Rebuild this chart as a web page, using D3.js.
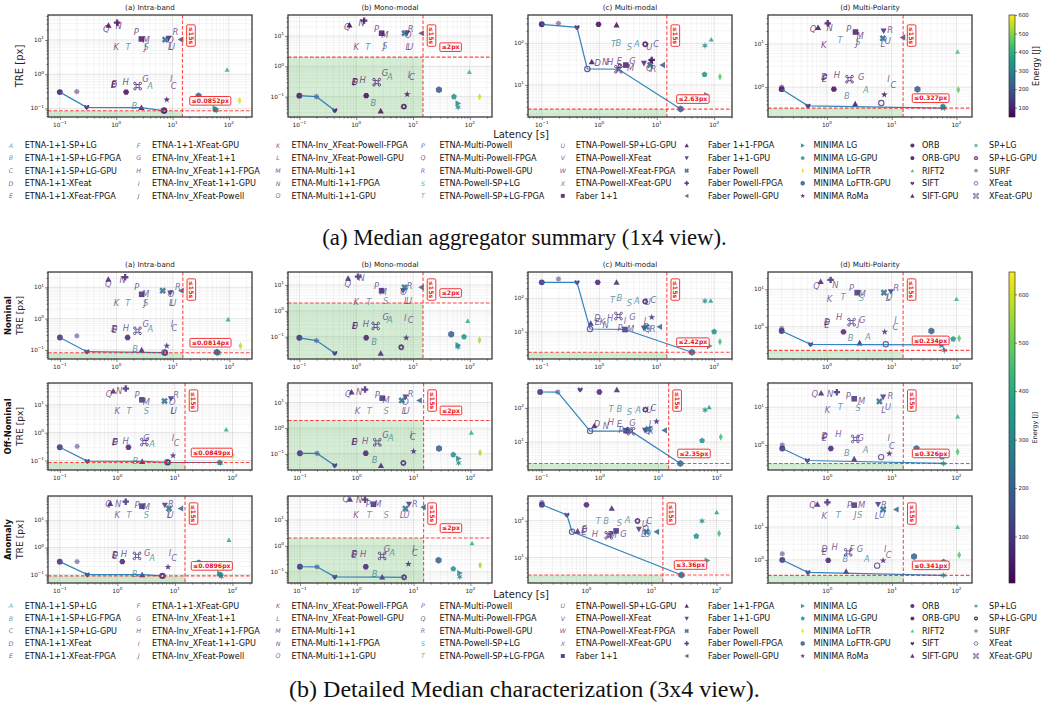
<!DOCTYPE html>
<html><head><meta charset="utf-8">
<script src="https://cdn.jsdelivr.net/npm/d3@7"></script>
<style>
body{margin:0;background:#fff}
svg{display:block}
text{font-family:"DejaVu Sans",sans-serif}
text.cap{font-family:"Liberation Serif",serif}
</style>
</head><body>
<svg id="fig" width="1049" height="711"></svg>
<script>
// ---------- methods ----------
const methodKeys = ["A","B","C","D","E","F","G","H","I","J","K","L","M","N","O","P","Q","R","S","T","U","V","W","X",
  "F11","F11F","F11G","FP","FPF","FPG","MLG","MLGG","MLF","MLFG","MRM","ORB","ORBG","RIFT","SIFT","SIFTG","SPLG","SPLGG","SURF","XF","XFG"];
const methodNames = ["ETNA-1+1-SP+LG","ETNA-1+1-SP+LG-FPGA","ETNA-1+1-SP+LG-GPU","ETNA-1+1-XFeat","ETNA-1+1-XFeat-FPGA",
  "ETNA-1+1-XFeat-GPU","ETNA-Inv_XFeat-1+1","ETNA-Inv_XFeat-1+1-FPGA","ETNA-Inv_XFeat-1+1-GPU","ETNA-Inv_XFeat-Powell",
  "ETNA-Inv_XFeat-Powell-FPGA","ETNA-Inv_XFeat-Powell-GPU","ETNA-Multi-1+1","ETNA-Multi-1+1-FPGA","ETNA-Multi-1+1-GPU",
  "ETNA-Multi-Powell","ETNA-Multi-Powell-FPGA","ETNA-Multi-Powell-GPU","ETNA-Powell-SP+LG","ETNA-Powell-SP+LG-FPGA",
  "ETNA-Powell-SP+LG-GPU","ETNA-Powell-XFeat","ETNA-Powell-XFeat-FPGA","ETNA-Powell-XFeat-GPU","Faber 1+1",
  "Faber 1+1-FPGA","Faber 1+1-GPU","Faber Powell","Faber Powell-FPGA","Faber Powell-GPU",
  "MINIMA LG","MINIMA LG-GPU","MINIMA LoFTR","MINIMA LoFTR-GPU","MINIMA RoMa",
  "ORB","ORB-GPU","RIFT2","SIFT","SIFT-GPU",
  "SP+LG","SP+LG-GPU","SURF","XFeat","XFeat-GPU"];
const methodMarkers = ["txt","txt","txt","txt","txt","txt","txt","txt","txt","txt","txt","txt","txt","txt","txt","txt","txt","txt","txt","txt","txt","txt","txt","txt",
  "square","triUp","triDown","xFilled","plusFilled","triLeft","triRight","pentagon","thinDiamond","bigCircle","star",
  "circle","hexagon","triSmall","heart","triUp","snow","gear","surf","ring","cmd"];
// energy [J] per dataset column: intra-band, mono-modal, multi-modal, multi-polarity
const methodEnergy = [
  [270,270,270,270],[250,250,250,250],[95,95,95,95],[60,60,60,60],[55,55,55,55],
  [75,75,75,75],[70,70,70,70],[55,55,55,55],[90,90,90,90],[65,65,65,65],
  [55,55,55,55],[85,85,85,85],[70,70,70,70],[55,55,55,55],[90,90,90,90],
  [70,70,70,70],[55,55,55,55],[95,95,95,95],[260,260,260,260],[250,250,250,250],
  [100,100,100,100],[70,70,70,70],[55,55,55,55],[90,90,90,90],
  [90,90,90,90],[65,65,65,65],[110,110,110,110],[230,230,230,230],[80,80,80,80],[200,200,200,200],
  [300,300,300,300],[330,330,330,330],[570,560,450,470],[190,190,190,190],[80,80,80,80],
  [75,75,75,75],[60,60,60,60],[410,420,380,440],[65,65,65,65],[70,70,70,70],
  [310,310,310,310],[60,60,60,60],[110,110,110,110],[110,110,110,110],[90,90,90,90]];

// ---------- median aggregator (1x4) : [method, latency s, TRE px] ----------
const medIntra = [["ORB",0.1,0.30],["SURF",0.2,0.31],["SIFT",0.3,0.108],["SIFTG",2.8,0.106],["SPLGG",7.2,0.0852],["XF",7.0,0.087],
 ["B",2.1,0.117],["MRM",7.9,0.18],["ORBG",1.5,0.30],["D",0.91,0.5],["E",0.92,0.52],["F",0.9,0.48],
 ["H",1.47,0.59],["XFG",2.4,0.45],["G",3.3,0.71],["A",4.0,0.46],["I",9.5,0.71],["C",10.5,0.45],
 ["F11F",0.73,27],["Q",0.67,21],["FPF",1.04,32],["N",1.1,26],["P",2.27,17.7],["F11",2.8,10.7],["M",3.4,10],
 ["K",1.0,6.1],["T",1.62,6.1],["S",3.4,6.1],["J",3.3,6.3],["FP",7.4,10.2],["F11G",8.5,11.2],["O",9.2,10],["R",11.3,17.7],
 ["L",9.1,6.1],["U",9.8,6.1],["FPG",14,10.3],
 ["RIFT",93,1.35],["MLF",155,0.17],["MLFG",29,0.23],["MLGG",58,0.092],["SPLG",60,0.088],["MLG",57,0.1]];
const medMono = [["ORB",0.1,0.108],["SURF",0.2,0.1],["SIFT",0.42,0.035],["D",0.95,0.31],["E",0.93,0.3],["F",0.96,0.29],
 ["H",1.3,0.36],["ORBG",1.5,0.108],["B",2.0,0.063],["SIFTG",2.7,0.034],["XFG",2.3,0.3],["G",3.2,0.59],["A",3.9,0.43],
 ["MRM",7.9,0.12],["SPLGG",6.9,0.047],["I",8.5,0.52],["C",9.6,0.43],
 ["F11F",0.76,23],["Q",0.7,20],["N",1.24,27.7],["FPF",1.38,32],["P",2.27,16.6],["F11",2.8,12.3],["M",3.2,10.8],
 ["K",1.0,4.4],["T",1.6,4.4],["S",3.2,4.8],["J",3.1,4.6],["L",8.1,4.4],["U",9.0,4.4],["FP",7.1,12.3],["F11G",7.9,12.5],
 ["O",8.3,10.8],["R",9.1,17],["FPG",14,12.3],
 ["MLFG",28.6,0.17],["MLGG",52.6,0.1],["RIFT",98,0.65],["MLF",148,0.1],["MLG",62,0.06],["SPLG",62,0.045]];
const medMulti = [["ORB",0.1,286],["SURF",0.195,302],["SIFT",0.41,242],["ORBG",0.97,286],["SIFTG",2.0,276],
 ["XF",0.62,24.2],["XFG",2.16,23.8],["MLFG",26,2.63],
 ["F11F",0.74,36],["D",0.94,34.6],["E",2.24,37],["F",2.24,25.5],["N",1.27,36],["H",1.55,36],["F11",2.9,30],["M",3.5,25],
 ["P",2.2,25.5],["G",3.8,37],["F11G",6.0,33],["FPF",8.2,40],["FP",7.7,30],["Q",7.4,25],["R",8.8,24.5],["FPG",12.6,30],["MRM",8.0,38],
 ["T",1.77,95],["B",2.16,100],["S",3.36,83],["A",4.5,95],["SPLGG",6.3,95],["U",7.4,83],["C",9.8,95],
 ["SPLG",69,88],["RIFT",89,124],["MLGG",68,17.8],["MLF",126,15.8],["MLG",74,5.7]];
const medPol = [["ORB",0.2,0.9],["SURF",0.2,1.0],["SIFT",0.51,0.37],["SPLG",65,0.327],["SIFTG",2.73,0.41],["XF",6.9,0.43],
 ["ORBG",1.28,0.9],["D",0.91,1.7],["E",0.91,1.55],["F",0.92,1.62],["H",1.43,1.93],["XFG",2.23,1.53],["G",3.4,1.7],
 ["B",2.03,0.63],["A",4.0,0.84],["MRM",7.7,0.67],["I",8.9,1.55],["C",10.6,1.13],["MLFG",25,0.9],["RIFT",104,6.6],["MLF",107,0.87],
 ["F11F",0.73,24],["Q",0.61,22],["FPF",1.03,30],["N",1.1,24],["P",2.18,21.8],["F11",2.76,18.9],["M",3.25,15.6],
 ["K",0.89,9.5],["T",1.6,12.4],["S",3.0,11.3],["J",2.9,10.5],["F11G",7.5,20],["R",9.5,21],["FP",7.3,13.5],["L",7.3,10],["U",8.7,12],
 ["FPG",14.8,14.2],["MLGG",62,0.36],["MLG",63,0.34]];

// ---------- detailed median (3x4) ----------
const nomIntra = [["ORB",0.1,0.25],["SURF",0.2,0.28],["SIFT",0.3,0.088],["SPLGG",7.3,0.0814],["XF",7.1,0.083],["MRM",7.8,0.135],
 ["SIFTG",2.8,0.1],["B",2.15,0.11],["ORBG",1.58,0.25],["D",0.92,0.46],["E",0.93,0.44],["F",0.91,0.47],["H",1.47,0.49],
 ["XFG",2.36,0.41],["G",3.3,0.68],["A",4.0,0.48],["I",9.6,0.66],["C",10.6,0.49],
 ["F11F",0.72,18],["Q",0.72,13],["FPF",1.43,21],["N",1.29,16.6],["P",2.3,10.5],["F11",2.8,6.0],["M",3.3,6],
 ["K",1.0,3.1],["T",1.6,3.1],["S",3.3,3.1],["J",3.2,3.2],["FP",6.6,7.8],["F11G",9.0,6.6],["O",9.3,6.2],["R",12.3,10.5],
 ["L",9.4,3.1],["U",10.2,3.1],["FPG",14,7.8],
 ["RIFT",95,0.95],["MLF",157,0.135],["MLGG",62,0.082],["SPLG",64,0.08],["MLFG",60,0.085]];
const nomMono = [["ORB",0.1,0.091],["SURF",0.2,0.071],["SIFT",0.42,0.023],["D",0.95,0.26],["E",0.94,0.25],["F",0.96,0.27],
 ["H",1.48,0.31],["ORBG",1.5,0.091],["B",2.07,0.065],["SIFTG",2.7,0.023],["XFG",2.2,0.26],["G",3.3,0.56],["A",3.9,0.44],
 ["MRM",7.6,0.091],["SPLGG",6.2,0.039],["I",7.3,0.53],["C",9.1,0.44],
 ["F11F",0.72,18],["Q",0.71,10.9],["FPF",1.08,21],["N",1.24,18],["P",2.27,9.4],["F11",2.8,6],["M",3.0,5.5],
 ["K",1.0,2.26],["T",1.67,2.26],["S",3.3,2.45],["L",7.6,2.45],["U",8.5,2.45],["FP",7.1,8.1],["F11G",6.7,6.0],["O",6.8,5.6],
 ["R",8.7,9.1],["FPG",14,8.1],
 ["MLFG",47,0.126],["MLGG",79,0.1],["RIFT",92,0.41],["MLF",148,0.074],["MLG",62,0.048],["SPLG",62,0.04]];
const nomMulti = [["ORB",0.1,302],["SURF",0.195,380],["SIFT",0.41,300],["ORBG",0.94,302],["SIFTG",2.0,302],
 ["XF",0.69,12],["F11",2.8,11.6],["MLFG",41,2.42],
 ["F11F",0.71,17.8],["D",0.93,25],["E",0.93,19],["K",1.13,20],["N",1.29,16],["H",1.55,25],["XFG",2.16,29.5],["I",2.8,21],
 ["G",3.8,28],["L",6.5,21],["MRM",8.2,27],["F11G",6.0,12.6],["FP",6.6,14],["Q",7.0,11.9],["R",8.5,11.9],["FPG",11.2,14],
 ["P",2.3,12.5],["M",3.5,11.9],
 ["T",1.7,89],["B",2.25,100],["S",3.36,71],["A",4.5,83],["SPLGG",6.3,80],["C",8.8,89],["U",7.0,80],
 ["SPLG",69,83],["RIFT",87,85],["MLGG",100,10],["MLF",126,5.0],["MLG",83,3.7]];
const nomPol = [["ORB",0.2,0.77],["SURF",0.2,0.9],["SIFT",0.56,0.34],["MLG",60,0.33],["SPLG",65,0.234],["SIFTG",3.2,0.37],
 ["XF",8.1,0.34],["D",1.0,1.35],["E",1.0,1.15],["F",1.0,1.25],["H",1.55,1.78],["XFG",2.4,1.33],["J",3.1,1.23],["G",3.5,1.5],
 ["ORBG",1.8,0.73],["B",2.33,0.49],["A",4.3,0.52],["MRM",7.8,0.73],["I",11.4,1.5],["C",11.4,1.0],["MLFG",41,0.77],
 ["MLGG",89,0.47],["MLF",110,0.49],["RIFT",100,5.5],
 ["F11F",0.8,16],["Q",0.69,12.2],["FPF",1.14,17.8],["N",1.35,13],["P",2.4,11],["F11",2.93,8.1],["M",3.5,7.3],
 ["S",3.4,5.7],["T",1.78,6.1],["K",1.1,5.4],["FP",7.6,8.1],["F11G",9.7,8.6],["R",11.7,11],["L",8.8,5.9],["U",9.3,6.2]];

const offIntra = [["ORB",0.1,0.3],["SURF",0.2,0.32],["SIFT",0.3,0.095],["SIFTG",2.7,0.093],["SPLGG",7.6,0.086],["XF",7.4,0.087],
 ["MLGG",60,0.0849],["SPLG",62,0.082],["B",2.05,0.1],["MRM",9.3,0.15],["ORBG",1.56,0.3],["D",0.91,0.46],["E",0.92,0.48],
 ["F",0.9,0.44],["H",1.4,0.5],["XFG",2.95,0.46],["G",3.2,0.66],["A",4.0,0.4],["I",9.3,0.63],["C",10.7,0.43],
 ["RIFT",78,1.3],["MLF",100,0.15],
 ["F11F",0.85,31],["Q",0.72,25],["N",1.07,31],["FPF",1.4,38],["P",2.2,21.8],["F11",2.67,15],["M",3.2,13],
 ["K",1.0,6.2],["T",1.6,6.2],["S",3.2,6.2],["FP",6.6,13.6],["F11G",8.5,16.5],["O",9.0,12.5],["R",10.5,21.8],
 ["L",9.2,6.2],["U",9.6,6.2]];
const offMono = [["ORB",0.1,0.105],["SURF",0.2,0.104],["SIFT",0.41,0.035],["D",0.91,0.29],["E",0.92,0.28],["F",0.9,0.3],
 ["H",1.4,0.32],["ORBG",1.44,0.105],["B",2.06,0.06],["SIFTG",2.67,0.035],["XFG",2.3,0.28],["G",3.2,0.55],["A",4.0,0.43],
 ["SPLGG",6.6,0.044],["MRM",10,0.126],["I",9.0,0.55],["C",9.7,0.47],
 ["F11F",0.81,25.6],["Q",0.71,21],["N",1.1,25.6],["FPF",1.4,32],["P",2.3,18.9],["F11",2.8,14.8],["M",3.3,13],
 ["K",1.03,4.8],["T",1.67,4.8],["S",3.3,4.8],["FP",6.2,12],["F11G",7.2,16.3],["O",7.2,10.3],["R",8.9,20.6],
 ["L",6.8,4.8],["U",7.5,4.8],["FPG",12.6,12],
 ["MLFG",28,0.16],["MLGG",50,0.093],["RIFT",104,0.67],["MLF",148,0.11],["MLG",62,0.066],["SPLG",62,0.044]];
const offMulti = [["ORB",0.095,293],["SURF",0.19,292],["SIFT",0.46,340],["ORBG",0.98,293],["SIFTG",1.95,340],
 ["XF",0.68,21],["XFG",3.4,20.8],["MLFG",23.8,2.35],["F11",2.8,21.5],
 ["F11F",0.8,30],["D",0.89,33],["N",1.27,30],["H",1.55,39],["E",2.16,33],["G",3.6,35],["Q",6.7,21.5],["R",7.4,21.5],
 ["F11G",5.9,22],["FP",6.7,23.7],["MRM",9.3,40],["L",7.5,33],["FPG",12.7,22],["P",2.3,22],["M",3.1,21.5],
 ["T",1.55,93],["B",2.16,93],["S",3.2,74],["A",4.5,89],["SPLGG",6.0,89],["C",8.2,98],["U",7.0,85],
 ["SPLG",63,87],["RIFT",74,105],["MLGG",56,11],["MLF",117,14],["MLG",69,5.2]];
const offPol = [["ORB",0.2,0.81],["SURF",0.2,1.0],["SIFT",0.49,0.39],["SPLG",63,0.326],["SIFTG",2.6,0.43],["XF",6.8,0.48],
 ["MRM",9.1,0.59],["B",2.0,0.63],["A",3.9,0.72],["ORBG",1.13,0.81],["D",0.9,1.7],["E",0.9,1.5],["F",0.91,1.6],
 ["H",1.48,1.93],["XFG",2.7,1.45],["G",3.3,1.5],["I",8.9,1.5],["C",10,0.95],["MLFG",24,0.81],["MLGG",60,0.48],
 ["MLF",104,0.66],["RIFT",104,5.7],
 ["F11F",0.8,23.7],["Q",0.64,22],["FPF",1.4,25],["N",1.1,22],["P",2.1,19.3],["F11",2.6,16.7],["M",3.4,15],
 ["K",1.0,8.5],["T",1.58,10.4],["S",3.0,9.6],["FP",6.4,14.2],["F11G",7.3,18.5],["R",9.5,20],["U",8.7,10.4],["L",7.4,8.5]];

const anoIntra = [["ORB",0.1,0.3],["SURF",0.2,0.3],["SIFT",0.3,0.1],["SIFTG",2.7,0.099],["SPLGG",6.0,0.0896],["XF",6.1,0.09],
 ["B",2.0,0.107],["MRM",7.6,0.19],["ORBG",1.22,0.3],["D",0.91,0.53],["E",0.92,0.5],["F",0.9,0.55],["H",1.3,0.59],
 ["XFG",2.2,0.49],["G",3.3,0.65],["A",4.0,0.42],["I",8.2,0.65],["C",9.7,0.42],["MLFG",26,0.27],["RIFT",87,1.9],
 ["MLF",94,0.2],["MLGG",62,0.1],["SPLG",64,0.085],["MLG",60,0.11],
 ["Q",0.7,42],["F11F",0.75,42],["N",1.03,42],["FPF",1.4,49],["P",2.2,36.5],["F11",2.67,33.5],["M",3.2,32],
 ["F11G",6.7,36.5],["FP",7.9,27.4],["R",8.5,42],["L",7.9,16.3],["U",8.4,16.3],["K",1.0,16.3],["T",1.6,16.3],["S",3.2,16.3],
 ["FPG",12.6,27.4]];
const anoMono = [["ORB",0.1,0.157],["SURF",0.2,0.156],["SIFT",0.41,0.064],["SIFTG",2.8,0.063],["SPLGG",6.8,0.0615],
 ["ORBG",1.44,0.157],["D",0.9,0.47],["E",0.91,0.45],["F",0.9,0.5],["H",1.3,0.5],["XFG",2.8,0.41],["G",3.4,0.74],["A",4.2,0.55],
 ["I",10,0.74],["C",10.6,0.55],["MRM",8.1,0.2],["B",2.06,0.08],
 ["Q",0.64,62],["F11F",0.76,62],["N",1.1,60],["FPF",1.4,60],["P",1.6,40],["F11",1.97,40],["M",2.35,40],["F11G",8.3,40],
 ["FP",7.2,27],["R",10.5,40],["FPG",14.8,31],["K",0.97,15.6],["T",1.67,15.6],["S",3.3,15.6],["L",6.3,15.6],["U",7.5,15.6],
 ["MLFG",27.5,0.28],["MLGG",50,0.13],["RIFT",107,1.26],["MLF",148,0.18],["MLG",65,0.09],["SPLG",65,0.064]];
const anoMulti = [["ORB",0.206,270],["SURF",0.206,313],["SIFT",0.5,143],["XF",0.6,50],["MLFG",29,3.36],["ORBG",1.0,270],
 ["SIFTG",2.45,218],
 ["F11F",0.73,52],["D",0.92,55],["E",0.92,50],["F",0.93,58],["H",1.35,45],["XFG",2.2,40],["R",2.3,40],["F11",2.86,53],
 ["G",3.7,43],["F11G",6.4,59],["Q",8.1,61],["FP",8.4,50],["L",7.5,43],["O",8.7,43],["FPG",12,50],["P",2.35,40],["M",2.6,40],
 ["T",1.52,98],["B",2.0,98],["S",3.2,88],["A",4.3,104],["SPLGG",6.1,98],["U",7.9,84],["C",9.2,98],
 ["SPLG",60,98],["RIFT",101,170],["MLGG",49,38],["MLF",110,45],["MLG",72,8.3]];
const anoPol = [["ORB",0.2,1.0],["SURF",0.2,1.54],["SIFT",0.5,0.42],["SPLG",63,0.341],["SIFTG",1.95,0.45],["XF",5.9,0.67],
 ["MRM",7.3,0.96],["B",1.9,1.05],["A",4.1,1.05],["ORBG",1.03,0.97],["D",0.9,2.2],["E",0.9,1.8],["F",2.4,2.2],["H",1.3,2.45],
 ["XFG",2.1,1.7],["G",3.2,2.2],["I",7.9,2.2],["C",8.9,1.4],["MLFG",22,1.26],["MLGG",63,0.89],["MLF",110,1.41],["RIFT",104,10],
 ["Q",0.59,46],["F11F",0.7,49],["FPF",1.0,56],["P",2.2,46],["F11",2.6,46],["M",3.4,46],["K",0.89,22],["T",1.48,22.7],
 ["J",2.7,22.7],["S",3.15,22.7],["F11G",6.1,48],["FP",7.3,34],["R",7.5,46],["L",5.9,22],["U",7.0,22.5],["FPG",11.6,34]];

// Pareto fronts (method keys in latency order)
const paretoTop = [["ORB","SIFT","SIFTG","SPLGG"],["ORB","SURF","SIFT"],["ORB","SIFT","XF","XFG","MLFG"],["ORB","SIFT","SPLG"]];
const paretoGrid = [
  [["ORB","SIFT","SPLGG"],["ORB","SURF","SIFT"],["ORB","SIFT","XF","F11","MLFG"],["ORB","SIFT","MLG","SPLG"]],
  [["ORB","SIFT","SIFTG","SPLGG","MLGG"],["ORB","SURF","SIFT"],["ORB","SURF","XF","XFG","MLFG"],["ORB","SIFT","SPLG"]],
  [["ORB","SIFT","SIFTG","SPLGG"],["ORB","SURF","SIFT","SIFTG","SPLGG"],["ORB","SIFT","XF","MLFG"],["ORB","SIFT","SPLG"]]];
// accuracy thresholds (px); mono-modal uses a fixed 2 px budget
const thrTop = [0.0852, 2, 2.63, 0.327];
const thrGrid = [[0.0814, 2, 2.42, 0.234],[0.0849, 2, 2.35, 0.326],[0.0896, 2, 3.36, 0.341]];
const latencyBudget = 15;
const panelTitles = ["(a) Intra-band","(b) Mono-modal","(c) Multi-modal","(d) Multi-Polarity"];
const rowNames = ["Nominal","Off-Nominal","Anomaly"];
const energyTicks = [100,200,300,400,500,600];

const topData = [medIntra, medMono, medMulti, medPol];
const gridData = [[nomIntra, nomMono, nomMulti, nomPol],[offIntra, offMono, offMulti, offPol],[anoIntra, anoMono, anoMulti, anoPol]];

// ---------- layout ----------
const fig = d3.select("#fig");
const colLeft = [48, 288, 528, 768];
const panelW = 204;
const topBox = {y:15, h:102};
const rowBox = [{y:272,h:87},{y:383,h:87},{y:496,h:87}];
const xDomTop = [[-1.21,2.41],[-1.2,2.39],[-1.24,2.31],[-0.91,2.24]];
const yDomTop = [[-1.25,1.73],[-1.67,1.69],[0.23,2.68],[-0.69,1.67]];
const xDomGrid = [
  [[-1.21,2.40],[-1.2,2.39],[-1.24,2.31],[-0.91,2.24]],
  [[-1.205,2.34],[-1.21,2.38],[-1.23,2.26],[-0.92,2.24]],
  [[-1.205,2.34],[-1.21,2.38],[-0.9,2.24],[-0.92,2.24]]];
const yDomGrid = [
  [[-1.29,1.49],[-1.86,1.5],[0.18,2.79],[-0.86,1.46]],
  [[-1.34,1.78],[-1.63,1.76],[0.18,2.73],[-0.66,1.64]],
  [[-1.31,1.9],[-1.43,1.92],[0.31,2.67],[-0.7,1.94]]];
const eDomTop = [50, 600], eDomGrid = [4, 646];

// ---------- markers ----------
function poly(pts){ return "M" + pts.map(p => p[0].toFixed(2) + "," + p[1].toFixed(2)).join("L") + "Z"; }
function regPoly(n, r, rot){ const a=[]; for(let i=0;i<n;i++){const t=rot+i*2*Math.PI/n; a.push([r*Math.sin(t), -r*Math.cos(t)]);} return poly(a); }
function starPoly(n, r1, r2, rot){ const a=[]; for(let i=0;i<2*n;i++){const t=rot+i*Math.PI/n; const r=i%2?r2:r1; a.push([r*Math.sin(t), -r*Math.cos(t)]);} return poly(a); }
function plusPts(r){ const w=r*0.36; return [[-w,-r],[w,-r],[w,-w],[r,-w],[r,w],[w,w],[w,r],[-w,r],[-w,w],[-r,w],[-r,-w],[-w,-w]]; }
function rot(pts, a){ const c=Math.cos(a), s=Math.sin(a); return pts.map(p => [p[0]*c-p[1]*s, p[0]*s+p[1]*c]); }
function circ(r){ return `M${-r},0A${r},${r} 0 1,0 ${r},0A${r},${r} 0 1,0 ${-r},0Z`; }

function drawMarker(g, key, x, y, color, s) {
  const m = methodMarkers[methodKeys.indexOf(key)];
  const t = g.append("g").attr("transform", `translate(${x.toFixed(2)},${y.toFixed(2)})`);
  if (m === "txt") {
    t.append("text").attr("font-size", 8.4*s).attr("font-style","italic").attr("fill", color).attr("fill-opacity", 0.72)
      .attr("text-anchor","middle").attr("dy","0.36em").text(key);
    return;
  }
  const r = 2.8*s;
  let d, fill = color, op = 0.85, stroke = null, sw = 0, rule = null;
  switch (m) {
    case "square": d = poly([[-r,-r],[r,-r],[r,r],[-r,r]]); break;
    case "triUp": d = poly([[0,-r*1.1],[r*1.1,r*0.9],[-r*1.1,r*0.9]]); break;
    case "triSmall": d = poly([[0,-r*0.9],[r*0.9,r*0.75],[-r*0.9,r*0.75]]); break;
    case "triDown": d = poly([[0,r*1.1],[r*1.1,-r*0.9],[-r*1.1,-r*0.9]]); break;
    case "triLeft": d = poly([[-r*1.1,0],[r*0.9,-r*1.1],[r*0.9,r*1.1]]); break;
    case "triRight": d = poly([[r*1.1,0],[-r*0.9,-r*1.1],[-r*0.9,r*1.1]]); break;
    case "xFilled": d = poly(rot(plusPts(r*1.25), Math.PI/4)); break;
    case "plusFilled": d = poly(plusPts(r*1.15)); break;
    case "pentagon": d = regPoly(5, r*1.1, 0); break;
    case "thinDiamond": d = poly([[0,-r*1.35],[r*0.7,0],[0,r*1.35],[-r*0.7,0]]); break;
    case "bigCircle": d = regPoly(6, r*1.25, 0); break;
    case "circle": d = circ(r*1.05); break;
    case "hexagon": d = regPoly(6, r*1.1, Math.PI/6); break;
    case "star": d = starPoly(5, r*1.25, r*0.5, 0); break;
    case "heart": d = `M0,${r}C${-r*1.5},${-r*0.1} ${-r*0.9},${-r*1.4} 0,${-r*0.45}C${r*0.9},${-r*1.4} ${r*1.5},${-r*0.1} 0,${r}Z`; break;
    case "snow": d = starPoly(6, r*1.25, r*0.5, 0); break;
    case "gear": d = starPoly(8, r*1.15, r*0.95, 0) + circ(r*0.42); rule = "evenodd"; break;
    case "surf": d = starPoly(8, r*1.1, r*0.75, 0); op = 0.55; break;
    case "ring": d = circ(r*0.95); fill = "none"; stroke = color; sw = 1.1*s; break;
    case "cmd": {
      const a = r*0.55, b = r*0.42;
      d = poly([[-a,-a],[a,-a],[a,a],[-a,a]]) +
          [[-1,-1],[1,-1],[1,1],[-1,1]].map(q => `M${q[0]*(a+b)-b},${q[1]*(a+b)}A${b},${b} 0 1,0 ${q[0]*(a+b)+b},${q[1]*(a+b)}A${b},${b} 0 1,0 ${q[0]*(a+b)-b},${q[1]*(a+b)}`).join("");
      fill = "none"; stroke = color; sw = 1.0*s; break;
    }
  }
  const p = t.append("path").attr("d", d).attr("fill", fill);
  if (fill !== "none") p.attr("fill-opacity", op);
  if (rule) p.attr("fill-rule", rule);
  if (stroke) p.attr("stroke", stroke).attr("stroke-width", sw).attr("stroke-opacity", 0.8);
}

// ---------- boxed red labels ----------
function boxLabel(g, cx, cy, txt, rotate) {
  const l = g.append("g").attr("transform", `translate(${cx},${cy})` + (rotate ? " rotate(90)" : ""));
  const rect = l.append("rect");
  const t = l.append("text").attr("font-size", 6.2).attr("font-weight","bold").attr("fill","#e8141a")
    .attr("text-anchor","middle").attr("dy","0.35em").text(txt);
  const bb = t.node().getBBox();
  rect.attr("x", bb.x-1.8).attr("y", -4.3).attr("width", bb.width+3.6).attr("height", 8.6)
    .attr("rx", 1.2).attr("fill","#fff").attr("stroke","#f02020").attr("stroke-width",0.9);
}

function supText(sel, k, size) {
  sel.append("tspan").text("10");
  sel.append("tspan").attr("dy", -size*0.45).attr("font-size", size*0.72).text(k < 0 ? "\u2212" + (-k) : String(k));
}

let clipN = 0;
function drawPanel(o) {
  const g = fig.append("g");
  const xs = d3.scaleLog().domain([10**o.xd[0], 10**o.xd[1]]).range([o.x, o.x+o.w]);
  const ys = d3.scaleLog().domain([10**o.yd[0], 10**o.yd[1]]).range([o.y+o.h, o.y]);
  const cs = d3.scaleSequential(d3.interpolateViridis).domain(o.eDom);
  const id = "clip" + (clipN++);
  g.append("clipPath").attr("id", id).append("rect").attr("x", o.x).attr("y", o.y).attr("width", o.w).attr("height", o.h);
  const inner = g.append("g").attr("clip-path", `url(#${id})`);

  const split = dom => { const maj=[], min=[];
    for (let k=Math.floor(dom[0]); k<=Math.ceil(dom[1]); k++) for (let m=1;m<10;m++) {
      const lv = Math.log10(m*10**k); if (lv>=dom[0] && lv<=dom[1]) (m===1?maj:min).push(m*10**k); }
    return [maj, min]; };
  const [xMaj, xMin] = split(o.xd), [yMaj, yMin] = split(o.yd);

  // grid
  inner.append("g").selectAll("line").data(xMin).join("line")
    .attr("x1", d=>xs(d)).attr("x2", d=>xs(d)).attr("y1", o.y).attr("y2", o.y+o.h)
    .attr("stroke","#000").attr("stroke-opacity",0.07).attr("stroke-width",0.6);
  inner.append("g").selectAll("line").data(yMin).join("line")
    .attr("y1", d=>ys(d)).attr("y2", d=>ys(d)).attr("x1", o.x).attr("x2", o.x+o.w)
    .attr("stroke","#000").attr("stroke-opacity",0.07).attr("stroke-width",0.6);
  inner.append("g").selectAll("line").data(xMaj).join("line")
    .attr("x1", d=>xs(d)).attr("x2", d=>xs(d)).attr("y1", o.y).attr("y2", o.y+o.h)
    .attr("stroke","#000").attr("stroke-opacity",0.13).attr("stroke-width",0.8);
  inner.append("g").selectAll("line").data(yMaj).join("line")
    .attr("y1", d=>ys(d)).attr("y2", d=>ys(d)).attr("x1", o.x).attr("x2", o.x+o.w)
    .attr("stroke","#000").attr("stroke-opacity",0.13).attr("stroke-width",0.8);

  // feasible region
  const x15 = xs(latencyBudget), yT = ys(o.thr);
  inner.append("rect").attr("x", o.x).attr("y", yT).attr("width", x15-o.x).attr("height", o.y+o.h-yT)
    .attr("fill","#2ca02c").attr("fill-opacity",0.2);

  // markers, drawn in legend order
  const sorted = o.pts.slice().sort((a,b) => methodKeys.indexOf(a[0]) - methodKeys.indexOf(b[0]));
  sorted.forEach(p => drawMarker(inner, p[0], xs(p[1]), ys(p[2]), cs(methodEnergy[methodKeys.indexOf(p[0])][o.col]), 1));

  // Pareto front
  const front = o.pareto.map(k => o.pts.find(p => p[0] === k));
  inner.append("path").attr("d", d3.line().x(p=>xs(p[1])).y(p=>ys(p[2]))(front))
    .attr("fill","none").attr("stroke","#1f77b4").attr("stroke-width",1.2).attr("stroke-opacity",0.9);

  // budget lines
  inner.append("line").attr("x1", x15).attr("x2", x15).attr("y1", o.y).attr("y2", o.y+o.h)
    .attr("stroke","#ff1a1a").attr("stroke-opacity",0.8).attr("stroke-width",1.1).attr("stroke-dasharray","3.5,2");
  inner.append("line").attr("x1", o.x).attr("x2", o.x+o.w).attr("y1", yT).attr("y2", yT)
    .attr("stroke","#ff1a1a").attr("stroke-opacity",0.8).attr("stroke-width",1.1).attr("stroke-dasharray","3.5,2");

  boxLabel(g, x15 + 8.5, o.y + o.h*0.2, "\u2264" + latencyBudget + "s", true);
  boxLabel(g, x15 + 0.4*(o.x+o.w-x15), yT - 10, "\u2264" + o.thr + "px", false);

  // frame
  g.append("rect").attr("x", o.x).attr("y", o.y).attr("width", o.w).attr("height", o.h)
    .attr("fill","none").attr("stroke","#3a3a3a").attr("stroke-width",1.3);

  // axes
  const styleAx = sel => { sel.select(".domain").remove(); sel.selectAll("line").attr("stroke","#333").attr("stroke-width",0.6); };
  g.append("g").attr("transform", `translate(0,${o.y+o.h})`).call(d3.axisBottom(xs).tickValues(xMaj).tickSize(3).tickFormat("")).call(styleAx);
  g.append("g").attr("transform", `translate(0,${o.y+o.h})`).call(d3.axisBottom(xs).tickValues(xMin).tickSize(1.6).tickFormat("")).call(styleAx);
  g.append("g").attr("transform", `translate(${o.x},0)`).call(d3.axisLeft(ys).tickValues(yMaj).tickSize(3).tickFormat("")).call(styleAx);
  g.append("g").attr("transform", `translate(${o.x},0)`).call(d3.axisLeft(ys).tickValues(yMin).tickSize(1.6).tickFormat("")).call(styleAx);
  xMaj.forEach(v => {
    const t = g.append("text").attr("x", xs(v)).attr("y", o.y+o.h+10).attr("font-size",5.8).attr("fill","#222").attr("text-anchor","middle");
    supText(t, Math.round(Math.log10(v)), 5.8);
  });
  yMaj.forEach(v => {
    const t = g.append("text").attr("x", o.x-4).attr("y", ys(v)+2).attr("font-size",5.8).attr("fill","#222").attr("text-anchor","end");
    supText(t, Math.round(Math.log10(v)), 5.8);
  });
  if (o.title) g.append("text").attr("x", o.x+o.w/2).attr("y", o.y-5).attr("font-size",7.2).attr("fill","#222")
    .attr("text-anchor","middle").text(o.title);
}

function drawColorbar(x, y, w, h, dom, labelX, labelSize, gid) {
  const grad = fig.append("defs").append("linearGradient").attr("id", gid).attr("x1",0).attr("y1",1).attr("x2",0).attr("y2",0);
  d3.range(0, 1.0001, 0.05).forEach(t => grad.append("stop").attr("offset", t).attr("stop-color", d3.interpolateViridis(t)));
  fig.append("rect").attr("x", x).attr("y", y).attr("width", w).attr("height", h).attr("fill", `url(#${gid})`)
    .attr("stroke","#333").attr("stroke-width",0.7);
  const s = d3.scaleLinear().domain(dom).range([y+h, y]);
  fig.append("g").attr("transform", `translate(${x+w},0)`)
    .call(d3.axisRight(s).tickValues(energyTicks).tickSize(2).tickPadding(1.5))
    .call(a => { a.select(".domain").remove(); a.selectAll("line").attr("stroke","#333").attr("stroke-width",0.6);
                 a.selectAll("text").attr("font-size",5.4).attr("fill","#222"); });
  fig.append("text").attr("transform", `translate(${labelX},${y+h/2}) rotate(-90)`).attr("font-size", labelSize)
    .attr("text-anchor","middle").attr("fill","#222").text("Energy [J]");
}

function drawLegend(y0, dy) {
  const mx = [11, 138.6, 278, 423, 562.8, 686.7, 802.7, 912.4, 976];
  const tx = [24.7, 152, 291.4, 439.5, 575.7, 708, 813.5, 922, 989];
  const cs = d3.scaleSequential(d3.interpolateViridis).domain(eDomTop);
  methodKeys.forEach((k, i) => {
    const c = Math.floor(i/5), r = i%5, y = y0 + r*dy;
    const g = fig.append("g");
    drawMarker(g, k, mx[c], y, cs(methodEnergy[i][0]), methodMarkers[i] === "txt" ? 0.75 : 0.7);
    fig.append("text").attr("x", tx[c]).attr("y", y).attr("dy","0.35em").attr("font-size",8.1).attr("fill","#111").text(methodNames[i]);
  });
}

function caption(y, txt, targetW) {
  const t = fig.append("text").attr("class","cap").attr("x", 524.5).attr("y", y).attr("text-anchor","middle")
    .attr("font-size", 20).attr("fill","#111").text(txt);
  const w = t.node().getComputedTextLength();
  t.attr("font-size", 20*targetW/w);
}

// ---------- top figure ----------
topData.forEach((pts, c) => drawPanel({x: colLeft[c], y: topBox.y, w: panelW, h: topBox.h, xd: xDomTop[c], yd: yDomTop[c],
  pts, pareto: paretoTop[c], thr: thrTop[c], col: c, eDom: eDomTop, title: panelTitles[c]}));
fig.append("text").attr("transform", `translate(23,${topBox.y+topBox.h/2}) rotate(-90)`).attr("font-size",10)
  .attr("text-anchor","middle").attr("fill","#222").text("TRE [px]");
fig.append("text").attr("x", 521).attr("y", 138).attr("font-size",10).attr("text-anchor","middle").attr("fill","#222").text("Latency [s]");
drawColorbar(1009, topBox.y, 6, topBox.h, eDomTop, 1039, 8.2, "cbTop");
drawLegend(145.5, 12.6);
caption(245, "(a) Median aggregator summary (1x4 view).", 405);

// ---------- detailed grid ----------
gridData.forEach((row, r) => row.forEach((pts, c) => drawPanel({x: colLeft[c], y: rowBox[r].y, w: panelW, h: rowBox[r].h,
  xd: xDomGrid[r][c], yd: yDomGrid[r][c], pts, pareto: paretoGrid[r][c], thr: thrGrid[r][c], col: c, eDom: eDomGrid,
  title: r === 0 ? panelTitles[c] : null})));
rowNames.forEach((n, r) => {
  const cy = rowBox[r].y + rowBox[r].h/2;
  fig.append("text").attr("transform", `translate(11,${cy}) rotate(-90)`).attr("font-size",8.4).attr("font-weight","bold")
    .attr("text-anchor","middle").attr("fill","#111").text(n);
  fig.append("text").attr("transform", `translate(23,${cy}) rotate(-90)`).attr("font-size",9.2)
    .attr("text-anchor","middle").attr("fill","#222").text("TRE [px]");
});
fig.append("text").attr("x", 521).attr("y", 598).attr("font-size",10).attr("text-anchor","middle").attr("fill","#222").text("Latency [s]");
drawColorbar(1009, rowBox[0].y, 6, rowBox[2].y + rowBox[2].h - rowBox[0].y, eDomGrid, 1037, 6.5, "cbGrid");
drawLegend(606, 12.5);
caption(697, "(b) Detailed Median characterization (3x4 view).", 471);
</script>
</body></html>
